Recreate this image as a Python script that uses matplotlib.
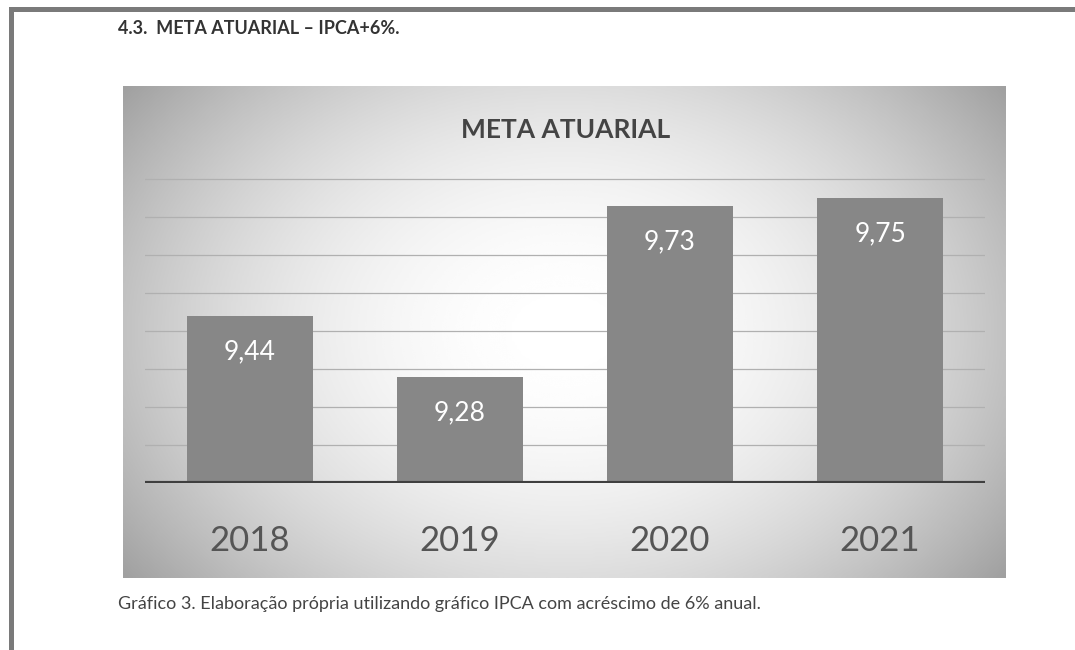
import numpy as np
import matplotlib.pyplot as plt
from matplotlib.patches import Rectangle

# data
years = ['2018', '2019', '2020', '2021']
meta = [9.44, 9.28, 9.73, 9.75]
grid_levels = [9.1, 9.2, 9.3, 9.4, 9.5, 9.6, 9.7, 9.8]

plt.rcParams['font.family'] = ['Lato', 'DejaVu Sans']

fig = plt.figure(figsize=(10.75, 6.5), dpi=100)
fig.patch.set_facecolor('white')

# page frame (scan border on left and top)
fig.add_artist(Rectangle((0.008, 0), 0.005, 0.988, transform=fig.transFigure,
                         color='#7a7a7a', lw=0))
fig.add_artist(Rectangle((0.008, 0.982), 0.992, 0.007, transform=fig.transFigure,
                         color='#7a7a7a', lw=0))

fig.text(0.110, 0.956, '4.3.  META ATUARIAL \u2013 IPCA+6%.', fontsize=13,
         fontweight='bold', color='#333333', va='center', ha='left')

# gradient panel behind the chart
bg = fig.add_axes([0.1144, 0.1108, 0.8205, 0.757])
gx, gy = np.meshgrid(np.linspace(-1, 1, 400), np.linspace(-1, 1, 250))
r = np.sqrt((gx * 1.0) ** 2 + (gy * 0.75) ** 2)
shade = 1 - 0.24 * np.clip(r, 0, 1.25) ** 2.0
bg.imshow(shade, cmap='gray', vmin=0, vmax=1, aspect='auto',
          extent=[0, 1, 0, 1], interpolation='bicubic')
bg.set_axis_off()

ax = fig.add_axes([0.1349, 0.2569, 0.7814, 0.526])
ax.set_facecolor('none')
ax.set_zorder(bg.get_zorder() + 1)

x = np.arange(len(years))
bars = ax.bar(x, [v - 9.0 for v in meta], 0.6, bottom=9.0, color='#878787', zorder=3)

for lvl in grid_levels:
    ax.axhline(lvl, color='#b0b0b0', lw=0.9, zorder=1)
ax.axhline(9.0, color='#3f3f3f', lw=3, zorder=4)

for xi, v in zip(x, meta):
    ax.text(xi, v - 0.095, f'{v:.2f}'.replace('.', ','), ha='center', va='center',
            color='white', fontsize=19, zorder=5)

ax.set_xlim(-0.5, 3.5)
ax.set_ylim(9.0, 9.9)
ax.set_xticks(x)
ax.set_xticklabels(years, fontsize=25, color='#555555')
ax.tick_params(axis='x', length=0, pad=30)
ax.set_yticks([])
for s in ax.spines.values():
    s.set_visible(False)

fig.text(0.526, 0.800, 'META ATUARIAL', fontsize=19, fontweight='bold',
         color='#444444', ha='center', va='center')

fig.text(0.110, 0.071, 'Gráfico 3. Elaboração própria utilizando gráfico IPCA com acréscimo de 6% anual.',
         fontsize=13, color='#444444', ha='left', va='center')

fig.savefig('out.png', dpi=100)
